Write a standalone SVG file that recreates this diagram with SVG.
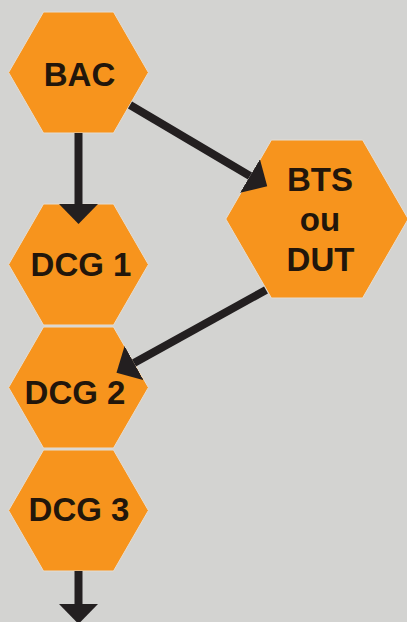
<svg xmlns="http://www.w3.org/2000/svg" width="407" height="622" viewBox="0 0 407 622">
<defs>
<style>
.hex{fill:#f7941d;stroke:#e4ddd3;stroke-width:1}
.lbl{font-family:"Liberation Sans",Arial,sans-serif;font-weight:bold;font-size:33px;fill:#22160b;text-anchor:middle}
.arr{stroke:#231f20;stroke-width:8;fill:none;marker-end:url(#head)}
</style>
<marker id="head" markerUnits="userSpaceOnUse" markerWidth="21" markerHeight="40" refX="0" refY="19.5" orient="auto" viewBox="0 0 21 40">
<path d="M0,0 L20,19.5 L0,39 Z" fill="#231f20"/>
</marker>
</defs>
<rect width="407" height="622" fill="#d3d3d1"/>
<g id="bac">
<polygon class="hex" points="8.6,72.5 43.5,12 113.5,12 148.4,72.5 113.5,133 43.5,133"/>
<text class="lbl" x="79.5" y="86">BAC</text>
</g>
<g id="dcg1">
<polygon class="hex" points="8.6,264.5 43.5,204 113.5,204 148.4,264.5 113.5,325 43.5,325"/>
<text class="lbl" x="81" y="276">DCG 1</text>
</g>
<g id="dcg2">
<polygon class="hex" points="8.6,387.5 43.5,327 113.5,327 148.4,387.5 113.5,448 43.5,448"/>
<text class="lbl" x="75" y="404">DCG 2</text>
</g>
<g id="dcg3">
<polygon class="hex" points="8.6,510.5 43.5,450 113.5,450 148.4,510.5 113.5,571 43.5,571"/>
<text class="lbl" x="79" y="521">DCG 3</text>
</g>
<g id="bts">
<polygon class="hex" points="225.8,219 271.4,140 362.6,140 408.2,219 362.6,298 271.4,298"/>
<text class="lbl" x="320" y="191">BTS</text>
<text class="lbl" x="320" y="231">ou</text>
<text class="lbl" x="320.5" y="271">DUT</text>
</g>
<g id="connectors">
<path class="arr" d="M78.5,133 V204"/>
<path class="arr" d="M130,105 L250,176"/>
<path class="arr" d="M266,290 L134,363"/>
<path class="arr" d="M78.5,571 V604"/>
</g>
</svg>
